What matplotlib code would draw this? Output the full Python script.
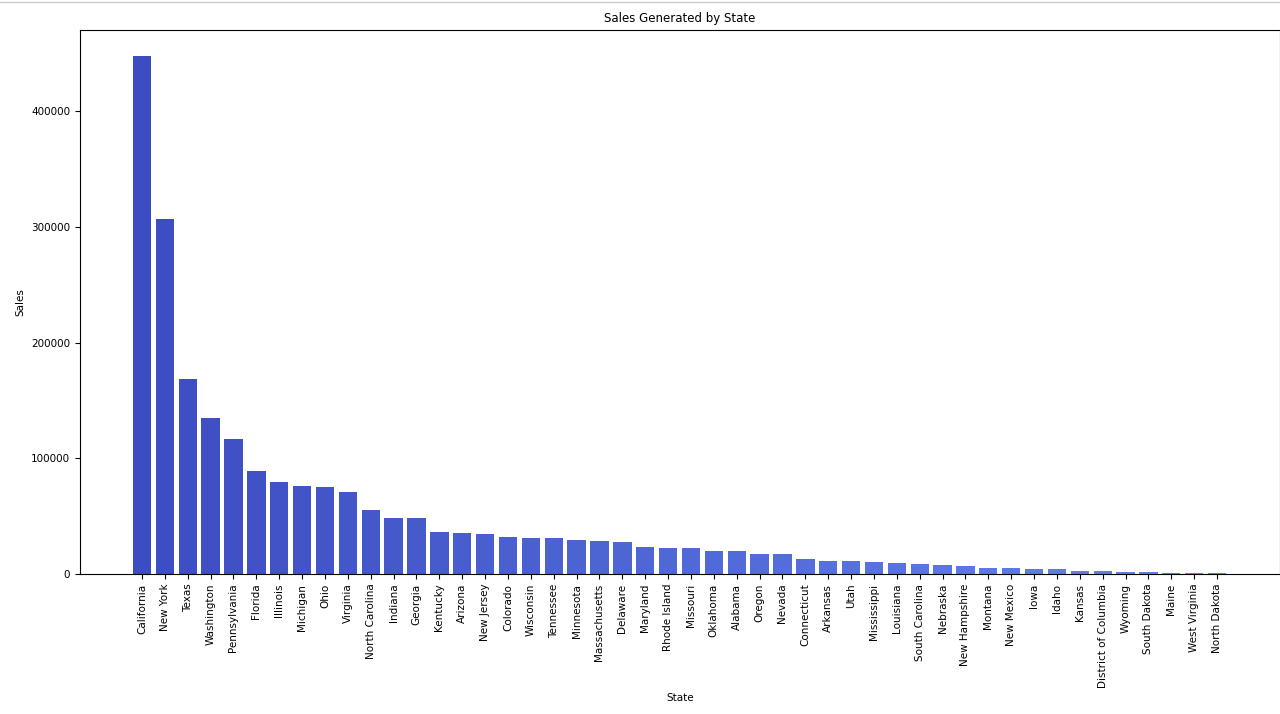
import matplotlib
matplotlib.use("Agg")
import matplotlib.pyplot as plt
import numpy as np
from matplotlib.colors import LinearSegmentedColormap

states = ["California","New York","Texas","Washington","Pennsylvania","Florida","Illinois","Michigan","Ohio","Virginia",
"North Carolina","Indiana","Georgia","Kentucky","Arizona","New Jersey","Colorado","Wisconsin","Tennessee","Minnesota",
"Massachusetts","Delaware","Maryland","Rhode Island","Missouri","Oklahoma","Alabama","Oregon","Nevada","Connecticut",
"Arkansas","Utah","Mississippi","Louisiana","South Carolina","Nebraska","New Hampshire","Montana","New Mexico","Iowa",
"Idaho","Kansas","District of Columbia","Wyoming","South Dakota","Maine","West Virginia","North Dakota"]
sales = [447500,306400,168600,135000,116300,88600,79100,76000,75200,70600,
55300,48800,48700,36500,35300,34600,32100,31000,30700,29400,
28600,27400,23700,22500,22200,19800,19500,17500,17000,13300,
11400,11200,10600,9200,8300,7900,7000,5400,4800,4500,
4300,2900,2800,1600,1300,1200,1200,900]

fig = plt.figure(figsize=(12.8, 7.14), dpi=100)
ax = fig.add_axes([80/1280, 1-574/714, 1200/1280, (574-30)/714])
cmap = LinearSegmentedColormap.from_list("b", ["#3c4cc2", "#6484ea"])
colors = [cmap(i/(len(states)-1)) for i in range(len(states))]
x = np.arange(len(states))
ax.bar(x, sales, color=colors, width=0.8)
ax.set_xticks(x)
ax.set_xticklabels(states, rotation=90, fontsize=7.5)
ax.tick_params(axis='y', labelsize=7.5)
ax.set_xlim(-2.71, 49.75)
ax.set_ylim(0, 470000)
ax.set_title("Sales Generated by State", fontsize=8.5)
ax.set_xlabel("State", fontsize=7.5)
ax.set_ylabel("Sales", fontsize=7.5)
fig.add_artist(plt.Line2D([0, 1], [0.997, 0.997], color="#cccccc", lw=1))
fig.savefig("out.png", dpi=100)
